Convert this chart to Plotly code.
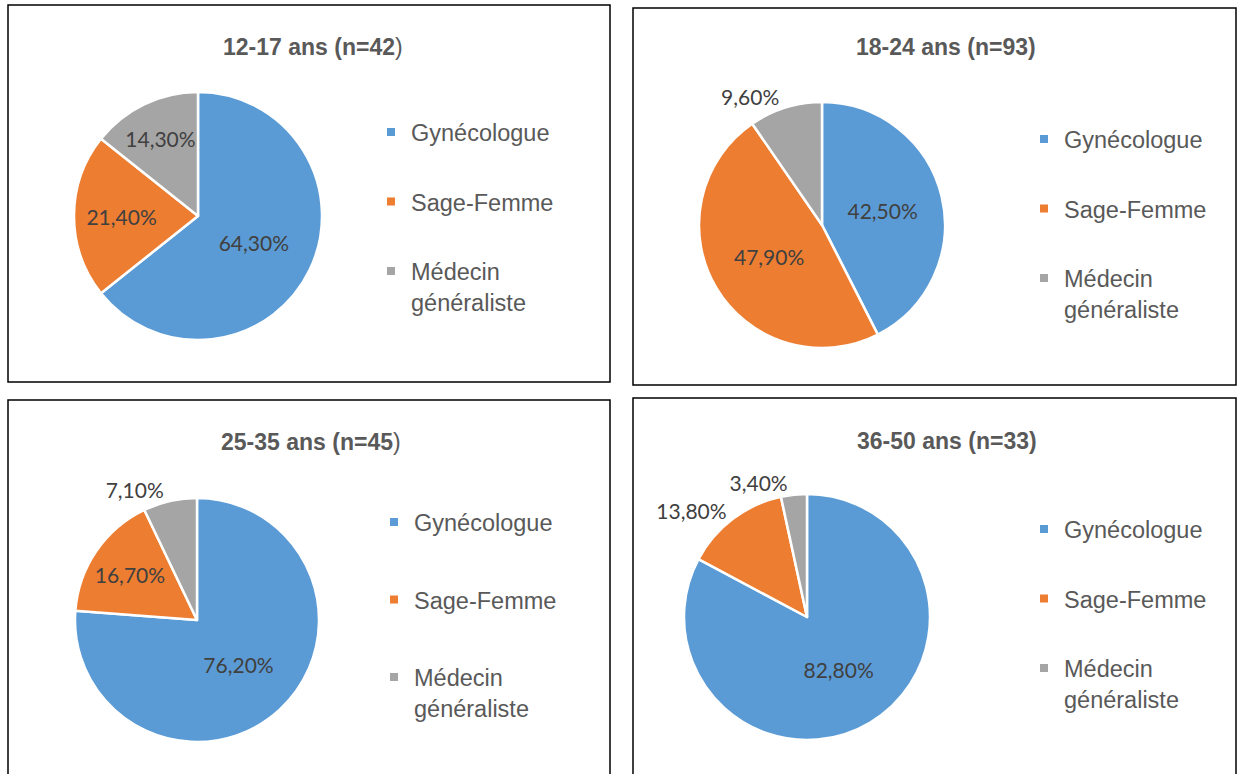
import plotly.graph_objects as go

W, H = 1239, 774

categories = ["Gynécologue", "Sage-Femme", "Médecin<br>généraliste"]
colors = ["#5B9BD5", "#ED7D31", "#A5A5A5"]

titles = ["<b>12-17 ans (n=42</b>)", "<b>18-24 ans (n=93)</b>",
          "<b>25-35 ans (n=45</b>)", "<b>36-50 ans (n=33)</b>"]
vals_12_17 = [64.3, 21.4, 14.3]
vals_18_24 = [42.5, 47.9, 9.6]
vals_25_35 = [76.2, 16.7, 7.1]
vals_36_50 = [82.8, 13.8, 3.4]
series = [vals_12_17, vals_18_24, vals_25_35, vals_36_50]
textpos = [["inside", "inside", "inside"],
           ["inside", "inside", "outside"],
           ["inside", "inside", "outside"],
           ["inside", "outside", "outside"]]

# layout (pixels)
pie_centers = [(198, 216, 124), (822, 225, 123), (197, 620, 122), (807, 617, 123)]
boxes = [(8, 5, 610, 382), (633, 8, 1236, 385), (8, 400, 610, 776), (633, 398, 1236, 776)]
title_pos = [(313, 47), (946, 47), (311, 442), (947, 441)]
# text-left x, first line centre y, group gap
legend_pos = [(411, 131, 36.0), (1064, 138, 36.0), (414, 521, 44.0), (1064, 528, 36.0)]
LEG_FS = 23.5

fig = go.Figure()
legend_names = ["legend", "legend2", "legend3", "legend4"]
for k in range(4):
    cx, cy, r = pie_centers[k]
    fig.add_trace(go.Pie(
        labels=[c.replace("<br>", " ") for c in categories], values=series[k],
        sort=False, direction="clockwise", rotation=0,
        domain=dict(x=[(cx - r) / W, (cx + r) / W], y=[1 - (cy + r) / H, 1 - (cy - r) / H]),
        marker=dict(colors=colors, line=dict(color="white", width=2.5)),
        texttemplate="%{value:.2f}%", textposition=textpos[k],
        insidetextorientation="horizontal",
        textfont=dict(family="Lato", size=21, color="#404040"),
        showlegend=False, hoverinfo="skip",
    ))
    # legend entries (no data drawn)
    for i, c in enumerate(categories):
        fig.add_trace(go.Scatter(
            x=[None], y=[None], mode="markers", name=c,
            marker=dict(symbol="square", size=8, color=colors[i]),
            legend=legend_names[k], legendgroup="g%d_%d" % (k, i), showlegend=True,
        ))

layout_legends = {}
for k in range(4):
    tx, ty, gap = legend_pos[k]
    L = 1.3 * LEG_FS
    top = ty - 5 - (L + 3) / 2 + 1
    layout_legends[legend_names[k]] = dict(
        x=(tx - 40) / W, y=1 - top / H, xanchor="left", yanchor="top",
        font=dict(family="Liberation Sans", size=LEG_FS, color="#595959"),
        bgcolor="rgba(0,0,0,0)", valign="top", traceorder="grouped",
        tracegroupgap=gap, itemclick=False, itemdoubleclick=False,
    )

shapes = []
for (x0, y0, x1, y1) in boxes:
    shapes.append(dict(type="rect", xref="paper", yref="paper",
                       x0=x0 / W, x1=x1 / W, y0=1 - y1 / H, y1=1 - y0 / H,
                       line=dict(color="black", width=1.5), layer="below"))

annotations = []
for t, (tx, ty) in zip(titles, title_pos):
    annotations.append(dict(text=t, x=tx / W, y=1 - ty / H, xref="paper", yref="paper",
                            xanchor="center", yanchor="middle", showarrow=False,
                            font=dict(family="Liberation Sans", size=23, color="#595959")))

fig.update_layout(
    width=W, height=H, margin=dict(l=0, r=0, t=0, b=0),
    paper_bgcolor="white", plot_bgcolor="white",
    xaxis=dict(visible=False), yaxis=dict(visible=False),
    separators=", ", shapes=shapes, annotations=annotations,
    **layout_legends,
)
fig.write_html("out.html", config={"displayModeBar": False},
               post_script="document.body.style.margin='0px';")
